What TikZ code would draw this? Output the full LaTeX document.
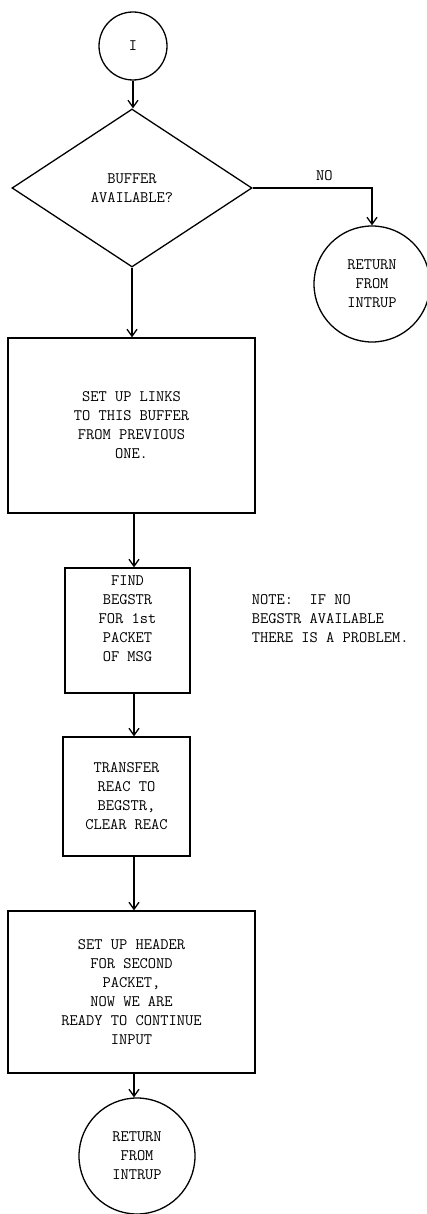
\documentclass[tikz,border=0pt]{standalone}
\usepackage{fontspec}
\usetikzlibrary{shapes.geometric,arrows.meta}

\begin{document}
\begin{tikzpicture}[x=1pt,y=-1pt,line width=1.3pt,
  txt/.style={font=\ttfamily\fontsize{16}{19}\selectfont,align=center},
  procbox/.style={draw,rectangle,txt,inner sep=0pt},
  termcircle/.style={draw,circle,txt,inner sep=0pt},
  decision/.style={draw,diamond,txt,inner sep=0pt},
  flow/.style={-{Straight Barb[length=7pt,width=10pt,line width=1.3pt]}}]

  \useasboundingbox (0,0) rectangle (427,1214);

  % vertical spine of the main flow
  \coordinate (spine) at (134,0);

  % nodes
  \node[termcircle,minimum size=68pt] (start) at (133,46) {I};
  \node[decision,minimum width=240pt,minimum height=158pt] (dec) at (132,188)
    {BUFFER\\AVAILABLE?};
  \node[termcircle,minimum size=116pt] (ret1) at (372,284)
    {RETURN\\FROM\\INTRUP};
  \node[procbox,minimum width=247pt,minimum height=175pt] (links) at (131.5,425.5)
    {SET UP LINKS\\TO THIS BUFFER\\FROM PREVIOUS\\ONE.};
  \node[procbox,minimum width=125pt,minimum height=125pt] (find) at (127.5,630.5)
    {FIND\\BEGSTR\\FOR 1st\\PACKET\\OF MSG\\[4pt]};
  \node[txt,align=left,anchor=west] (note) at (248,619)
    {NOTE:\ \ IF NO\\BEGSTR AVAILABLE\\THERE IS A PROBLEM.};
  \node[procbox,minimum width=127pt,minimum height=119pt] (transfer) at (126.5,796.5)
    {TRANSFER\\REAC TO\\BEGSTR,\\CLEAR REAC};
  \node[procbox,minimum width=247pt,minimum height=162pt] (header) at (131.5,992)
    {SET UP HEADER\\FOR SECOND\\PACKET,\\NOW WE ARE\\READY TO CONTINUE\\INPUT};
  \node[termcircle,minimum size=116pt] (ret2) at (137,1156)
    {RETURN\\FROM\\INTRUP};

  % connectors
  \draw[flow] (start.south) -- (start.south |- dec.north);
  \draw[flow] (dec.east) -| (ret1.north) node[pos=0.3,above=3pt,txt] (no) {NO};
  \draw[flow] (dec.south) -- (dec.south |- links.north);
  \draw[flow] (links.south -| spine) -- (find.north -| spine);
  \draw[flow] (find.south -| spine) -- (transfer.north -| spine);
  \draw[flow] (transfer.south -| spine) -- (header.north -| spine);
  \draw[flow] (header.south -| spine) -- (ret2.north -| spine);
\end{tikzpicture}
\end{document}
